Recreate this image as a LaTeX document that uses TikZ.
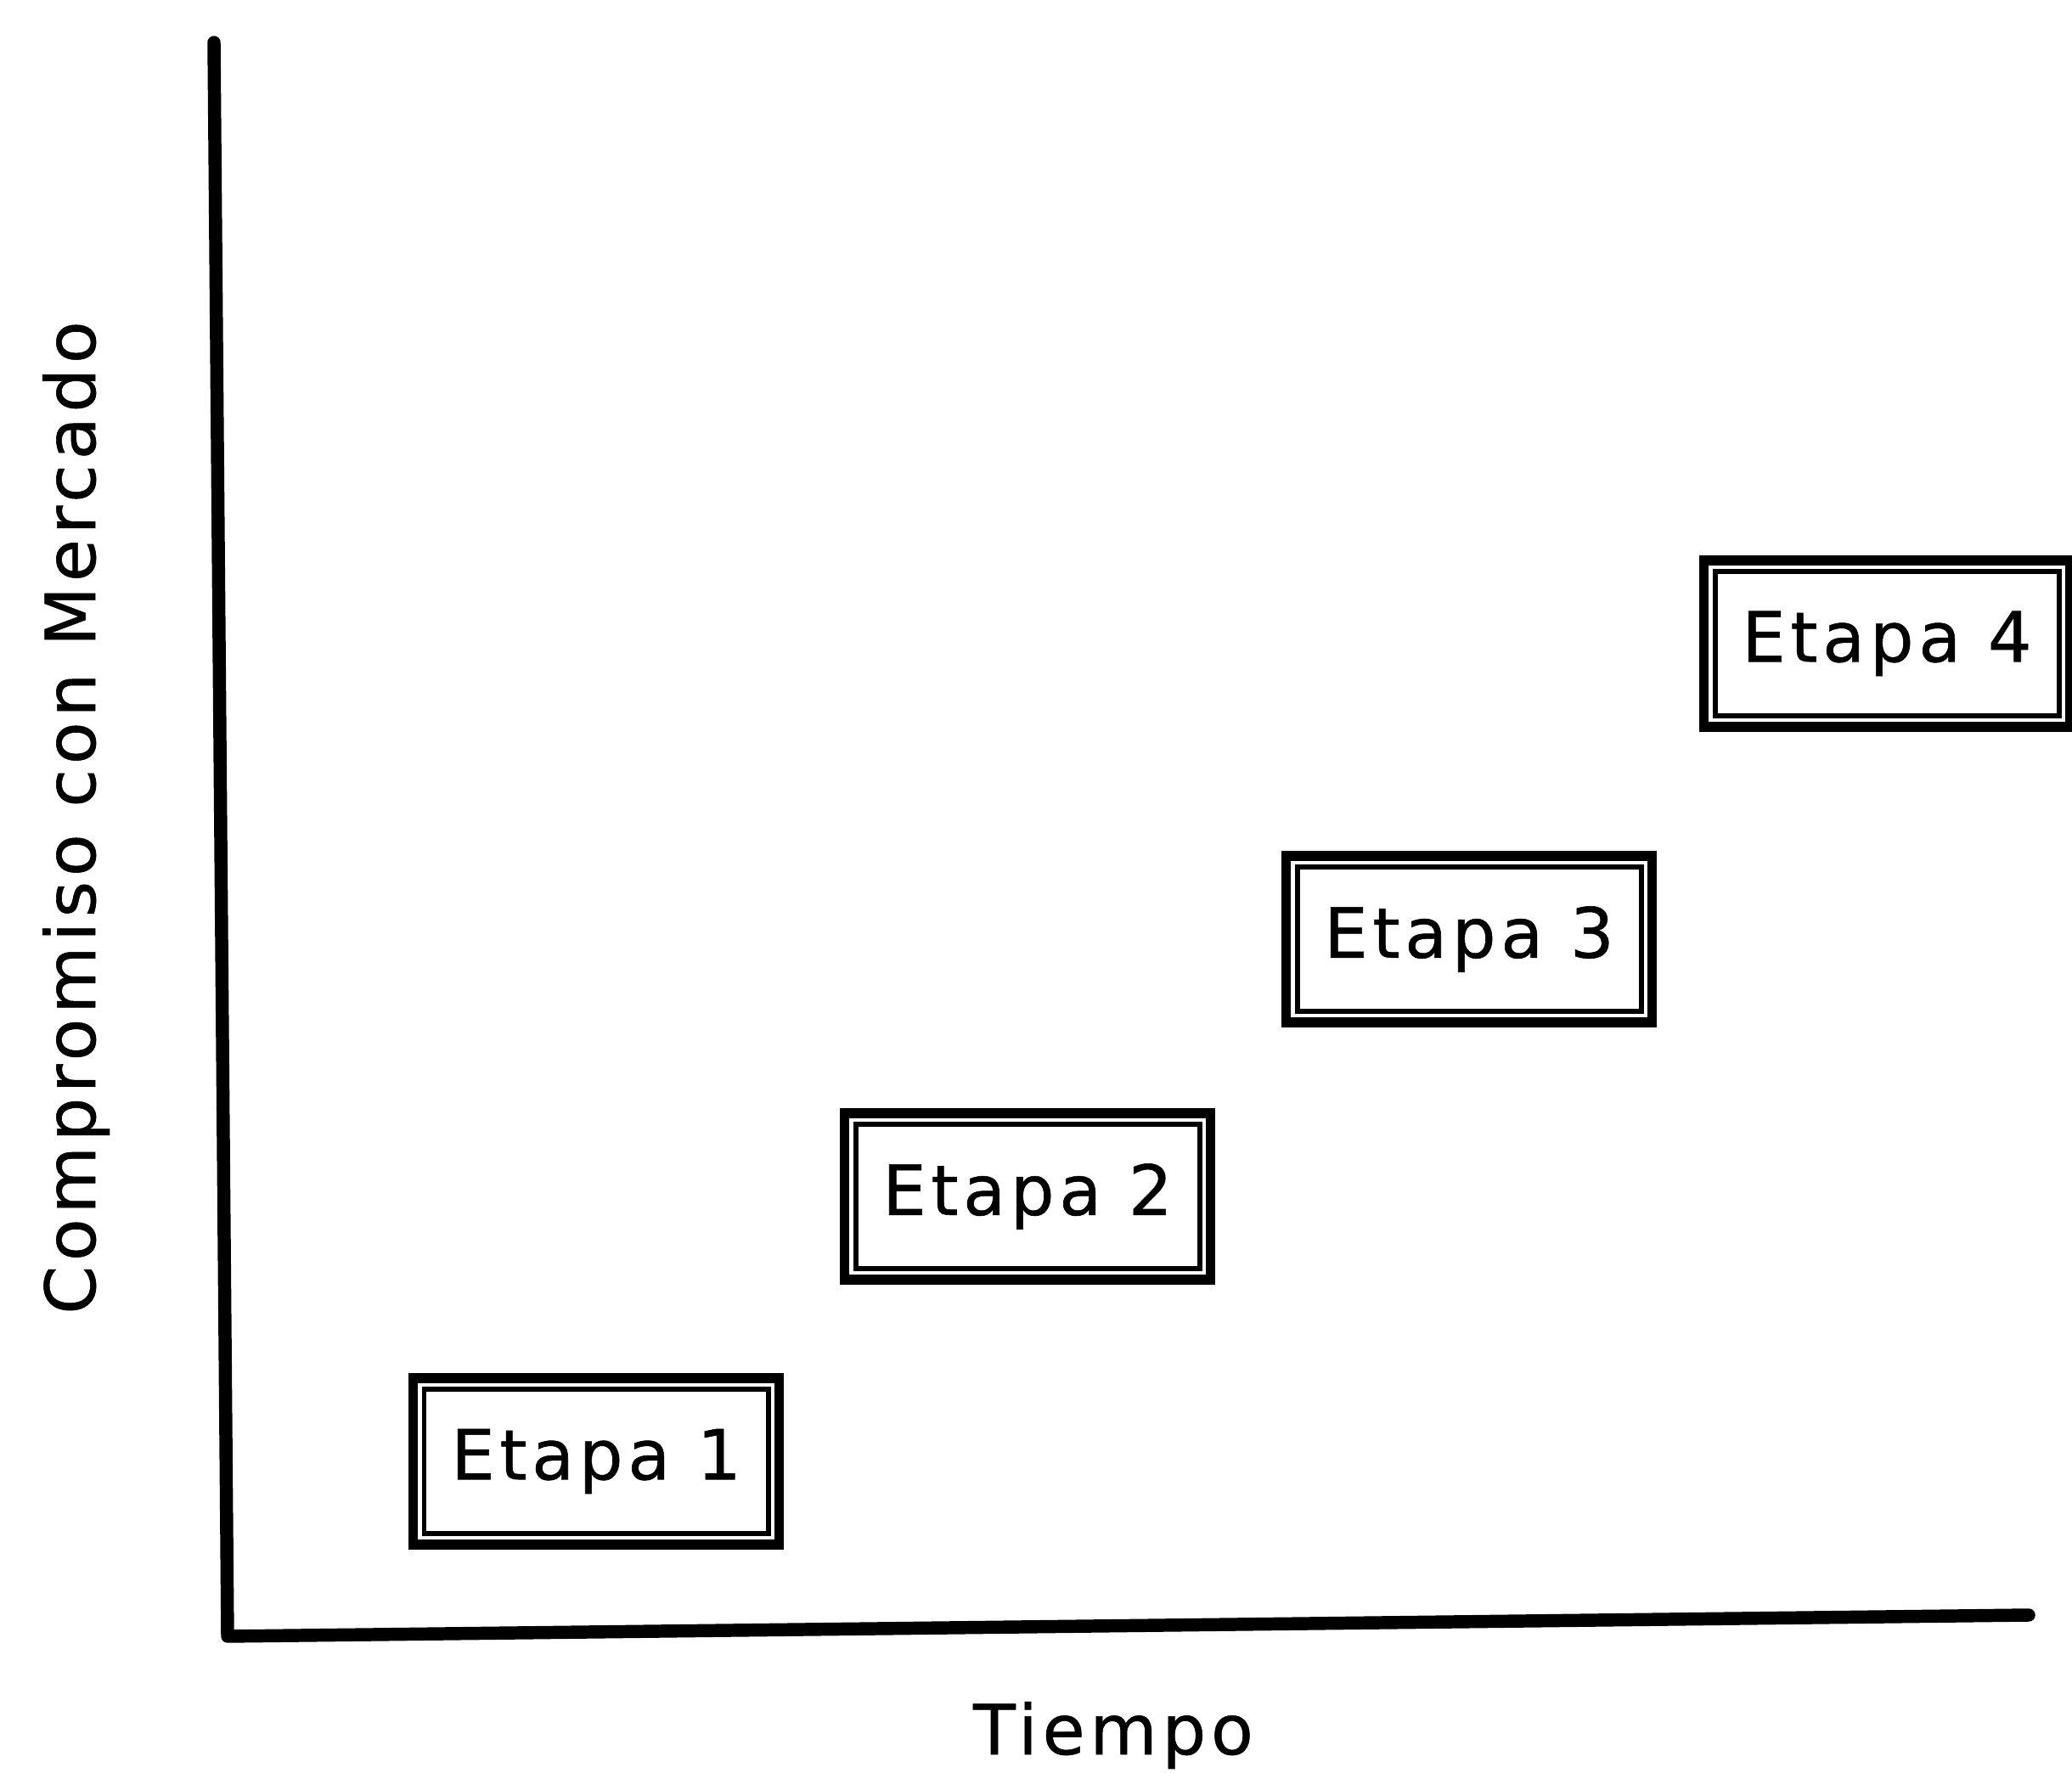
\documentclass[tikz,border=0pt]{standalone}
\usepackage{fontspec}
\setmainfont{DejaVu Sans}[LetterSpace=7,FakeBold=0.7]
\usepackage{tikz}
\usetikzlibrary{positioning,calc}

\begin{document}
\begin{tikzpicture}[
  font=\fontsize{23.2}{27}\selectfont,
  axis/.style={line width=4.4pt,line cap=round,line join=round},
  etapa/.style={draw,line width=1.7pt,minimum width=4.05cm,minimum height=1.7cm,inner sep=0pt},
  frame/.style={line width=3.2pt}
]
\useasboundingbox (0,0) rectangle (24.4,20.87);
% axes
\coordinate (ytop) at (2.52,20.37);
\coordinate (o) at (2.68,1.60);
\coordinate (xend) at (23.89,1.85);
\draw[axis] (ytop) -- (o) -- (xend);
\node[anchor=base] (xlab) at (13.11,0.21) {Tiempo};
\node[anchor=base,rotate=90] (ylab) at (1.12,11.24) {Compromiso con Mercado};
% stages
\node[etapa] (e1) at (7.02,3.66) {Etapa 1};
\node[etapa] (e2) at (12.10,6.78) {Etapa 2};
\node[etapa] (e3) at (17.30,9.81) {Etapa 3};
\node[etapa] (e4) at (22.22,13.29) {Etapa 4};
\foreach \n in {e1,e2,e3,e4}
  \draw[frame] ([shift={(-0.1,-0.1)}]\n.south west) rectangle ([shift={(0.1,0.1)}]\n.north east);
\end{tikzpicture}
\end{document}
